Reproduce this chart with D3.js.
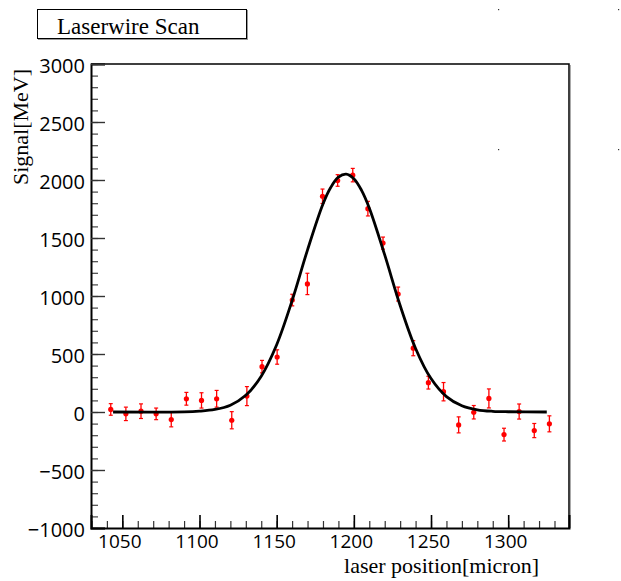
<!DOCTYPE html>
<html>
<head>
<meta charset="utf-8">
<script src="https://cdn.jsdelivr.net/npm/d3@7"></script>
<style>
  html, body { margin: 0; padding: 0; background: #fff; }
  svg { display: block; }
</style>
</head>
<body>
<script>
// laser position of each scan step [micron]
const positions = [1042.5, 1052.3, 1062.1, 1071.9, 1081.7, 1091.5, 1101.3, 1111.1, 1120.9, 1130.7,
  1140.5, 1150.3, 1160.1, 1169.9, 1179.7, 1189.5, 1199.3, 1209.1, 1218.9, 1228.7,
  1238.5, 1248.3, 1258.1, 1267.9, 1277.7, 1287.5, 1297.3, 1307.1, 1316.9, 1326.7];
// measured signal [MeV]
const signal = [22, -16, 7, -16, -65, 114, 100, 114, -71, 137,
  391, 474, 965, 1104, 1860, 1996, 2042, 1753, 1456, 1017,
  550, 253, 175, -111, -2, 117, -195, 4, -160, -102];
// error on signal [MeV]
const signalErr = [50, 58, 63, 50, 63, 55, 66, 72, 74, 82,
  54, 62, 50, 92, 62, 50, 58, 63, 52, 60,
  65, 55, 79, 69, 58, 82, 55, 65, 61, 69];

// gaussian fit curve, sampled off the plot
const fitX = [1044, 1090, 1100, 1110, 1120, 1130, 1140, 1150, 1160, 1170, 1180, 1185, 1190,
  1195, 1200, 1205, 1210, 1220, 1230, 1240, 1250, 1260, 1270, 1280, 1290, 1300, 1325];
const fitY = [0, 1, 7, 22, 59, 144, 309, 580, 960, 1398, 1793, 1935, 2024,
  2050, 2011, 1911, 1759, 1354, 918, 548, 288, 133, 54, 19, 6, 2, 0];

const xTicks = [1050, 1100, 1150, 1200, 1250, 1300];
const yTicks = [-1000, -500, 0, 500, 1000, 1500, 2000, 2500, 3000];

const W = 621, H = 581;
const frame = { left: 91, right: 569, top: 64, bottom: 528 };

const svg = d3.select("body").append("svg")
  .attr("width", W)
  .attr("height", H);

const x = d3.scaleLinear().domain([1029.7, 1339.4]).range([frame.left, frame.right]);
const y = d3.scaleLinear().domain([-1000, 3000]).range([frame.bottom, frame.top]);

// title box
svg.append("rect")
  .attr("x", 38.5).attr("y", 10.5).attr("width", 209).attr("height", 29)
  .attr("fill", "none").attr("stroke", "#999").attr("stroke-width", 1);
svg.append("rect")
  .attr("x", 37.5).attr("y", 9.5).attr("width", 209).attr("height", 29)
  .attr("fill", "#fff").attr("stroke", "#000").attr("stroke-width", 1);
svg.append("text")
  .attr("x", 57).attr("y", 34)
  .style("font-family", "'Liberation Serif', 'Times New Roman', serif")
  .style("font-size", "23px")
  .text("Laserwire Scan");

// stray pixels in the corner
[[498, 9], [618, 9], [498, 149], [618, 149]].forEach(([px, py]) => {
  svg.append("rect").attr("x", px).attr("y", py).attr("width", 1.2).attr("height", 1.2).attr("fill", "#333");
});

// frame top and right, with shadow
svg.append("path")
  .attr("d", `M${frame.right + 1.5},${frame.top + 1} V${frame.bottom}`)
  .attr("stroke", "#aaa").attr("stroke-width", 1).attr("fill", "none");
svg.append("path")
  .attr("d", `M${frame.left},${frame.top} H${frame.right} V${frame.bottom}`)
  .attr("stroke", "#000").attr("stroke-width", 1.5).attr("fill", "none");

// minor ticks
svg.append("g")
  .attr("transform", `translate(${frame.left},0)`)
  .call(d3.axisLeft(y).ticks(40).tickSize(-7).tickFormat(""))
  .call(g => g.select(".domain").remove())
  .call(g => g.selectAll("line").attr("stroke", "#444").attr("stroke-width", 1.2));
svg.append("g")
  .attr("transform", `translate(0,${frame.bottom})`)
  .call(d3.axisBottom(x).tickValues(d3.range(1030, 1340, 10)).tickSize(-7).tickFormat(""))
  .call(g => g.select(".domain").remove())
  .call(g => g.selectAll("line").attr("stroke", "#333").attr("stroke-width", 1.2));

// major ticks + labels
const tickFont = "'Open Sans', 'DejaVu Sans', sans-serif";
svg.append("g")
  .attr("transform", `translate(${frame.left},0)`)
  .call(d3.axisLeft(y).tickValues(yTicks).tickSize(-14).tickPadding(6).tickFormat(d3.format("d")))
  .call(g => g.select(".domain").attr("stroke", "#000").attr("stroke-width", 2))
  .call(g => g.selectAll("line").attr("stroke", "#333").attr("stroke-width", 1.4))
  .call(g => g.selectAll("text")
    .attr("fill", "#000").attr("dy", "0.42em")
    .style("font-family", tickFont).style("font-size", "20px"));
svg.append("g")
  .attr("transform", `translate(0,${frame.bottom})`)
  .call(d3.axisBottom(x).tickValues(xTicks).tickSize(-13).tickPadding(7).tickFormat(d3.format("d")))
  .call(g => g.select(".domain").attr("stroke", "#000").attr("stroke-width", 2))
  .call(g => g.selectAll("line").attr("stroke", "#000").attr("stroke-width", 1.6))
  .call(g => g.selectAll("text")
    .attr("fill", "#000").attr("dx", -3)
    .style("font-family", tickFont).style("font-size", "19px"));

// axis titles
svg.append("text")
  .attr("transform", `translate(28,69) rotate(-90)`)
  .attr("text-anchor", "end")
  .style("font-family", "'Liberation Serif', 'Times New Roman', serif")
  .style("font-size", "22px")
  .text("Signal[MeV]");
svg.append("text")
  .attr("x", 539).attr("y", 573)
  .attr("text-anchor", "end")
  .style("font-family", "'Liberation Serif', 'Times New Roman', serif")
  .style("font-size", "22px")
  .text("laser position[micron]");

// data points with error bars
const pts = positions.map((p, i) => ({ x: p, y: signal[i], e: signalErr[i] }));
const marks = svg.append("g");
const bar = marks.selectAll("g").data(pts).enter().append("g");
bar.append("line")
  .attr("x1", d => x(d.x)).attr("x2", d => x(d.x))
  .attr("y1", d => y(d.y - d.e)).attr("y2", d => y(d.y + d.e))
  .attr("stroke", "#f00").attr("stroke-width", 1.3);
bar.selectAll(".cap").data(d => [[d.x, d.y - d.e], [d.x, d.y + d.e]]).enter().append("line")
  .attr("x1", c => x(c[0]) - 2).attr("x2", c => x(c[0]) + 2)
  .attr("y1", c => y(c[1])).attr("y2", c => y(c[1]))
  .attr("stroke", "#f00").attr("stroke-width", 1.2);
bar.append("circle")
  .attr("cx", d => x(d.x)).attr("cy", d => y(d.y))
  .attr("r", 2.6).attr("fill", "#f00");

// fit curve
const fit = fitX.map((v, i) => [v, fitY[i]]);
svg.append("path")
  .datum(fit)
  .attr("d", d3.line().x(d => x(d[0])).y(d => y(d[1])).curve(d3.curveCatmullRom))
  .attr("fill", "none").attr("stroke", "#000").attr("stroke-width", 2.8);
</script>
</body>
</html>
